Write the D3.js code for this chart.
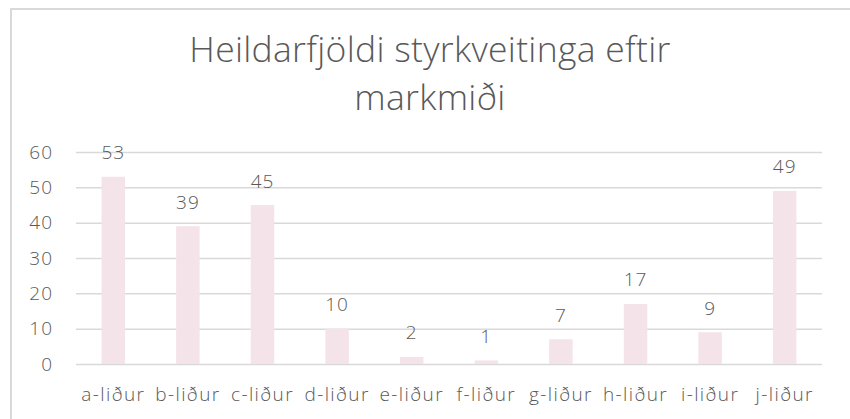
<!DOCTYPE html>
<html><head><meta charset="utf-8">
<script src="https://cdn.jsdelivr.net/npm/d3@7"></script>
<style>
html,body{margin:0;padding:0;background:#fff;overflow:hidden;}
text{font-family:"Open Sans",sans-serif;font-weight:300;}
</style></head>
<body><svg id="c" width="850" height="419"></svg>
<script>
const categories = ["a-liður","b-liður","c-liður","d-liður","e-liður","f-liður","g-liður","h-liður","i-liður","j-liður"];
const values = [53,39,45,10,2,1,7,17,9,49];
const yTicks = [0,10,20,30,40,50,60];
const titleLines = ["Heildarfjöldi styrkveitinga eftir","markmiði"];

const svg = d3.select("#c");
svg.append("rect").attr("x",11).attr("y",9).attr("width",860).attr("height",430)
  .attr("fill","#fff").attr("stroke","#d9d9d9").attr("stroke-width",2);

const m = {left:76, right:822, top:152, bottom:364};
const x = d3.scaleBand().domain(categories).range([m.left,m.right]).paddingInner(0.685).paddingOuter(0.3425);
const y = d3.scaleLinear().domain([0,60]).range([m.bottom,m.top]);

const title = svg.append("g").attr("fill","#595959");
titleLines.forEach((t,i)=>title.append("text").attr("text-anchor","middle").style("font-size","35.5px")
  .style("letter-spacing","0.3px").attr("x",430).attr("y",62+i*48).text(t));

const grid = svg.append("g").attr("transform",`translate(${m.left},0)`)
  .call(d3.axisLeft(y).tickValues(yTicks).tickSize(-(m.right-m.left)).tickFormat(d3.format("d")).tickPadding(23));
grid.select(".domain").remove();
grid.selectAll(".tick line").attr("stroke","#d9d9d9").attr("stroke-width",1.5);
grid.selectAll(".tick text").attr("fill","#595959").style("font-size","19px").style("letter-spacing","1px").attr("font-family",null);

svg.append("g").selectAll("rect").data(values).join("rect")
  .attr("x",(d,i)=>x(categories[i])).attr("width",x.bandwidth())
  .attr("y",d=>y(d)).attr("height",d=>y(0)-y(d)).attr("fill","#f5e3ea");

svg.append("g").selectAll("text").data(values).join("text")
  .attr("x",(d,i)=>x(categories[i])+x.bandwidth()/2).attr("y",d=>y(d)-17.5)
  .attr("text-anchor","middle").attr("fill","#595959").style("font-size","19px").style("letter-spacing","1px").text(d=>d);

const xa = svg.append("g").attr("transform",`translate(0,${m.bottom})`)
  .call(d3.axisBottom(x).tickSize(0).tickPadding(23.5));
xa.select(".domain").remove();
xa.selectAll(".tick text").attr("fill","#595959").style("font-size","19px").style("letter-spacing","1.4px").attr("font-family",null);
</script></body></html>
